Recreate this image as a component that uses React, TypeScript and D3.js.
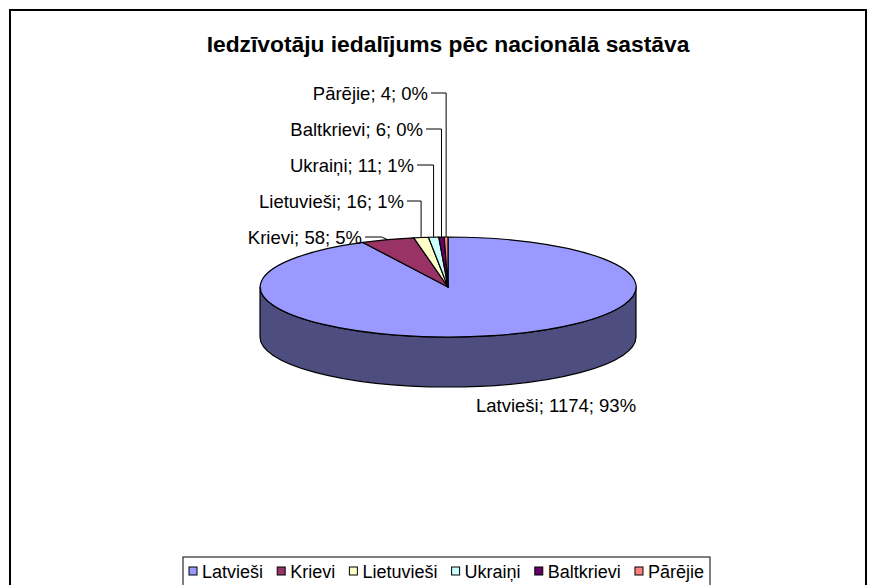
import { useMemo } from "react";
import * as d3 from "d3";

const categories = ["Latvieši", "Krievi", "Lietuvieši", "Ukraiņi", "Baltkrievi", "Pārējie"];
const values = [1174, 58, 16, 11, 6, 4];
const topColors = ["#9999FF", "#993366", "#FFFFCC", "#CCFFFF", "#660066", "#FF8080"];
const sideColors = ["#4D4D80", "#4D1A33", "#80806A", "#6A8080", "#330033", "#804040"];
const title = "Iedzīvotāju iedalījums pēc nacionālā sastāva";

const FONT = "'Liberation Sans', Arial, sans-serif";

// where each data label sits (x, y centre, anchor)
const labelPos: [number, number, "start" | "end"][] = [
  [476, 405, "start"],
  [362, 237, "end"],
  [404, 201, "end"],
  [414, 165, "end"],
  [423, 129, "end"],
  [428, 93, "end"],
];

const measure = (() => {
  const ctx = document.createElement("canvas").getContext("2d")!;
  return (s: string, size: number) => {
    ctx.font = `${size}px 'Liberation Sans'`;
    return ctx.measureText(s).width;
  };
})();

const App = () => {
  const W = 873;
  const H = 585;
  const cx = 448, cy = 287, rx = 188, ry = 50, depth = 50;

  const total = d3.sum(values);
  const arcs = useMemo(
    () => d3.pie<number>().sort(null).value((d) => d)(values),
    []
  );
  const unitArc = d3.arc<d3.PieArcDatum<number>>().innerRadius(0).outerRadius(1);

  const pt = (a: number, dy = 0): [number, number] => [cx + rx * Math.sin(a), cy - ry * Math.cos(a) + dy];

  const sidePath = (a0: number, a1: number) => {
    const a = Math.max(a0, Math.PI / 2);
    const b = Math.min(a1, (3 * Math.PI) / 2);
    if (b <= a) return null;
    const [x0, y0] = pt(a);
    const [x1, y1] = pt(b);
    return `M${x0},${y0}A${rx},${ry},0,0,1,${x1},${y1}L${x1},${y1 + depth}A${rx},${ry},0,0,0,${x0},${y0 + depth}Z`;
  };

  // legend layout
  const legFont = 18;
  const legX = 183, legY = 557, legW = 527, legH = 30;
  const mk = 8, mkGap = 5, padL = 6, padR = 6;
  const widths = categories.map((c) => measure(c, legFont));
  const itemGap = (legW - padL - padR - d3.sum(widths) - categories.length * (mk + mkGap)) / (categories.length - 1);
  let acc = legX + padL;
  const legItems = categories.map((c, i) => {
    const x = acc;
    acc += mk + mkGap + widths[i] + itemGap;
    return { c, x, i };
  });

  return (
    <svg width={W} height={H} style={{ position: "absolute", left: 0, top: 0 }} fontFamily={FONT}>
      <rect x={0} y={0} width={W} height={H} fill="#fff" />
      <rect x={10} y={10} width={856} height={H} fill="#fff" stroke="#000" strokeWidth={2} />
      <text x={448} y={52} textAnchor="middle" fontSize={22.8} fontWeight="bold">
        {title}
      </text>

      {/* side walls */}
      {arcs.map((d, i) => {
        const p = sidePath(d.startAngle, d.endAngle);
        return p ? <path key={"s" + i} d={p} fill={sideColors[i]} stroke="#000" strokeWidth={1.2} /> : null;
      })}

      {/* top face */}
      <g transform={`translate(${cx},${cy}) scale(${rx},${ry})`}>
        {arcs.map((d, i) => (
          <path
            key={"t" + i}
            d={unitArc(d) || ""}
            fill={topColors[i]}
            stroke="#000"
            strokeWidth={1.2}
            vectorEffect="non-scaling-stroke"
            strokeLinejoin="round"
          />
        ))}
      </g>

      {/* data labels */}
      {arcs.map((d, i) => {
        const [lx, ly, anchor] = labelPos[i];
        const pct = Math.round((values[i] / total) * 100);
        const txt = `${categories[i]}; ${values[i]}; ${pct}%`;
        const mid = (d.startAngle + d.endAngle) / 2;
        const [ax, ay] = pt(mid);
        const leader =
          anchor === "end"
            ? i === 1
              ? `M${lx + 3},${ly}L${ax - 6},${ly}L${ax},${ay}`
              : `M${lx + 3},${ly}L${ax},${ly}L${ax},${ay}`
            : null;
        return (
          <g key={"l" + i}>
            {leader && <path d={leader} fill="none" stroke="#000" strokeWidth={1} />}
            <text x={lx} y={ly + 6.5} textAnchor={anchor} fontSize={18.5}>
              {txt}
            </text>
          </g>
        );
      })}

      {/* legend */}
      <rect x={legX} y={legY} width={legW} height={legH} fill="#fff" stroke="#000" strokeWidth={1} />
      {legItems.map(({ c, x, i }) => (
        <g key={"g" + i}>
          <rect x={x} y={legY + 10} width={mk} height={mk} fill={topColors[i]} stroke="#000" strokeWidth={1} />
          <text x={x + mk + mkGap} y={legY + 20.5} fontSize={legFont}>
            {c}
          </text>
        </g>
      ))}
    </svg>
  );
};

export default App;
